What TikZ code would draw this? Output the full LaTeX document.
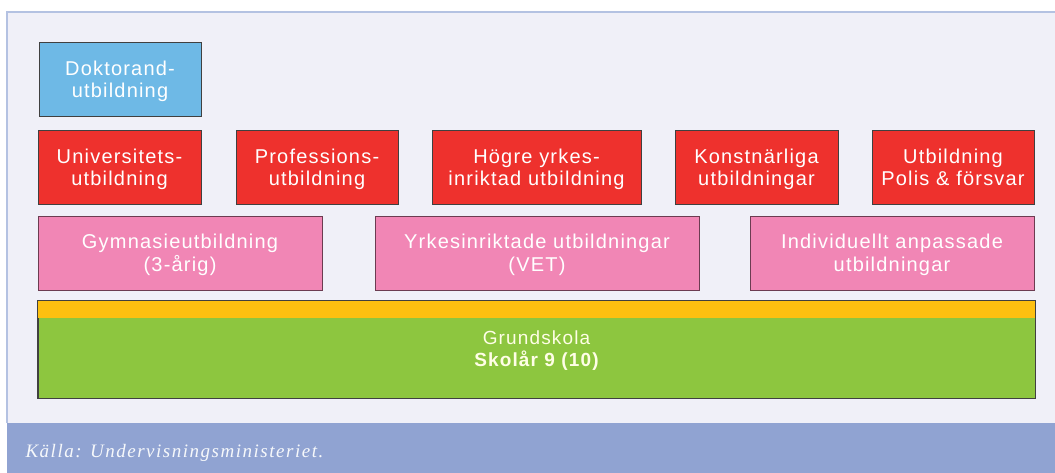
\documentclass[tikz,border=0pt]{standalone}
\usepackage{fontspec}
\usepackage{tikz}
\usetikzlibrary{positioning}
\newfontfamily\boxfont[LetterSpace=6]{Liberation Sans}
\newfontfamily\notefont[LetterSpace=8]{Liberation Serif}
\definecolor{bgpanel}{HTML}{F0F0F8}
\definecolor{panelline}{HTML}{B4C2E2}
\definecolor{notebar}{HTML}{90A3D2}
\definecolor{doktblue}{HTML}{6EB9E6}
\definecolor{hogred}{HTML}{EE312D}
\definecolor{gympink}{HTML}{F186B5}
\definecolor{stripe}{HTML}{FDC010}
\definecolor{grundgreen}{HTML}{8DC63F}

\begin{document}
\begin{tikzpicture}[x=1pt, y=-1pt,
    lvl/.style={draw=black!75, line width=1pt, text=white, align=center, inner sep=0pt,
                text depth=1pt, font=\boxfont\fontsize{20}{22.5}\selectfont},
    top/.style={lvl, fill=doktblue, minimum height=74pt},
    high/.style={lvl, fill=hogred, minimum height=74pt},
    mid/.style={lvl, fill=gympink, draw=black!55!gympink, minimum height=73pt}]
    \useasboundingbox (0,0) rectangle (1055,473);
    % panel and source bar
    \fill[bgpanel] (7,12) rectangle (1055,423);
    \draw[panelline, line width=1.2pt] (7,423) -- (7,12) -- (1055,12);
    \fill[notebar] (7,423) rectangle (1055,473);
    \node[anchor=base west, text=white!92!notebar, font=\notefont\itshape\fontsize{19}{22}\selectfont] (src) at (22,457) {Källa: Undervisningsministeriet.};
    % doctoral level
    \node[top, minimum width=162pt] (dok) at (120,80) {Doktorand-\\utbildning};
    % higher education
    \node[high, minimum width=163pt] (uni) at (119.5,168) {Universitets-\\utbildning};
    \node[high, minimum width=162pt] (prof) at (317,168) {Professions-\\utbildning};
    \node[high, minimum width=209pt] (hyr) at (536.5,168) {Högre yrkes-\\inriktad utbildning};
    \node[high, minimum width=163pt] (konst) at (756.5,168) {Konstnärliga\\utbildningar};
    \node[high, minimum width=162pt] (polis) at (953,168) {Utbildning\\Polis \& försvar};
    % upper secondary
    \node[mid, minimum width=284pt] (gym) at (180,253.5) {Gymnasieutbildning\\(3-årig)};
    \node[mid, minimum width=324pt] (vet) at (537,253.5) {Yrkesinriktade utbildningar\\(VET)};
    \node[mid, minimum width=284pt] (ind) at (892,253.5) {Individuellt anpassade\\utbildningar};
    % compulsory school
    \node[lvl, fill=grundgreen, minimum width=997pt, minimum height=97pt] (grund) at (536.5,349.5) {};
    \fill[stripe] (grund.north west) rectangle ([yshift=-17pt]grund.north east);
    \draw[black!75, line width=1pt] (grund.north west) rectangle (grund.south east);
    \node[text=white!90!yellow, align=center, font=\boxfont\fontsize{19}{21.5}\selectfont] (grundtxt) at ([yshift=-1pt]grund.center)
        {Grundskola\\\bfseries Skolår 9 (10)};
\end{tikzpicture}
\end{document}
